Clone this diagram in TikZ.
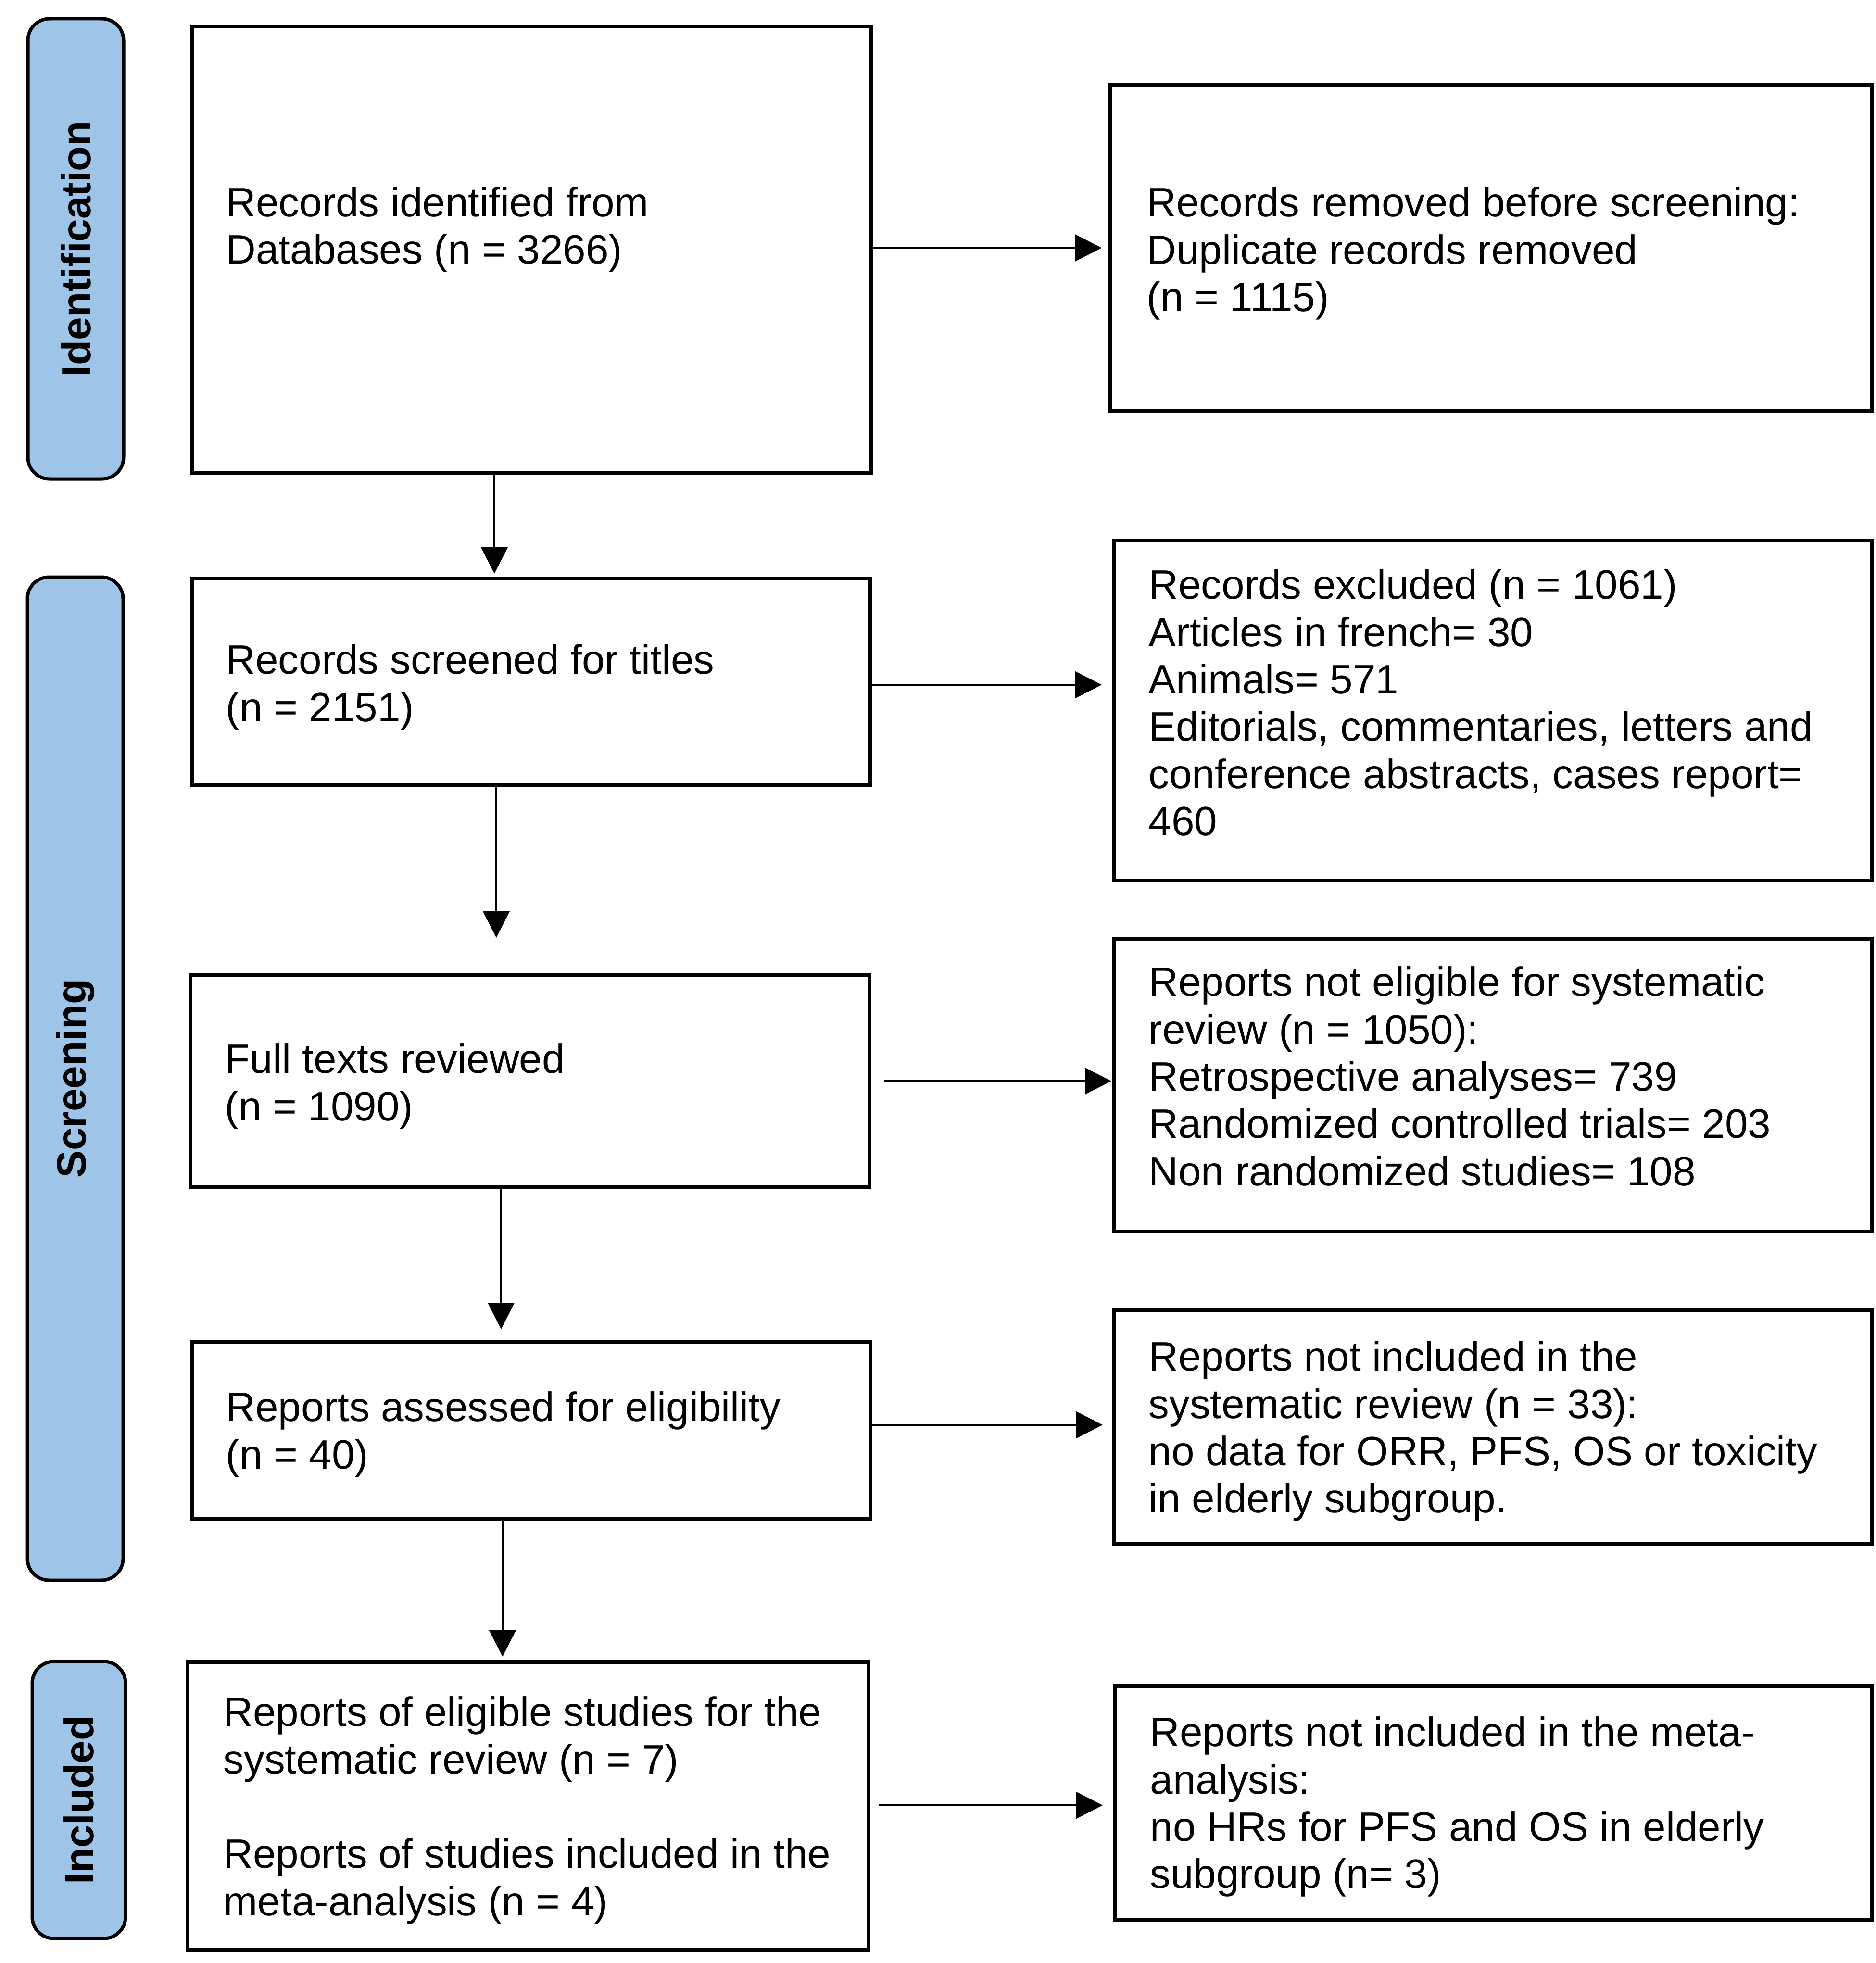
\documentclass[tikz,border=0pt]{standalone}
\usepackage{fontspec}
\setmainfont{Liberation Sans}
\usetikzlibrary{arrows.meta}
\definecolor{sidefill}{RGB}{158,196,232}
\begin{document}
\begin{tikzpicture}[
  box/.style={draw=black, line width=0.08cm, inner sep=0pt, fill=white},
  txt/.style={anchor=north west, inner sep=0pt, align=left, font=\fontsize{24.3pt}{28pt}\selectfont},
  side/.style={draw=black, fill=sidefill, line width=0.07cm, rounded corners=0.45cm, rotate=90, inner sep=0pt, font=\fontsize{24.3pt}{28pt}\selectfont\bfseries},
  arr/.style={line width=0.04cm, -{Triangle[length=0.55cm,width=0.55cm]}}
]
\fill[white] (0,0) rectangle (39,-40.82);
\useasboundingbox (0,0) rectangle (39,-40.82);

% phase side bars
\node[side, minimum width=9.57cm, minimum height=1.99cm] (s1) at (1.575,-5.175) {Identification};
\node[side, minimum width=20.86cm, minimum height=1.99cm] (s2) at (1.565,-22.43) {Screening};
\node[side, minimum width=5.76cm, minimum height=1.94cm] (s3) at (1.64,-37.43) {Included};

% main column boxes
\node[box, minimum width=14.11cm, minimum height=9.29cm] (b1) at (11.055,-5.195) {};
\node[box, minimum width=14.09cm, minimum height=4.30cm] (b2) at (11.045,-14.18) {};
\node[box, minimum width=14.12cm, minimum height=4.41cm] (b3) at (11.02,-22.485) {};
\node[box, minimum width=14.10cm, minimum height=3.67cm] (b4) at (11.05,-29.745) {};
\node[box, minimum width=14.16cm, minimum height=5.99cm] (b5) at (10.98,-37.555) {};

% right column boxes
\node[box, minimum width=15.84cm, minimum height=6.79cm] (r1) at (31.00,-5.155) {};
\node[box, minimum width=15.75cm, minimum height=7.07cm] (r2) at (31.045,-14.775) {};
\node[box, minimum width=15.75cm, minimum height=6.08cm] (r3) at (31.045,-22.57) {};
\node[box, minimum width=15.75cm, minimum height=4.86cm] (r4) at (31.045,-29.67) {};
\node[box, minimum width=15.74cm, minimum height=4.87cm] (r5) at (31.05,-37.495) {};

% texts
\node[txt] (t1) at (4.70,-3.88) {Records identified from\\Databases (n = 3266)};
\node[txt] (t2) at (4.69,-13.39) {Records screened for titles\\(n = 2151)};
\node[txt] (t3) at (4.67,-21.69) {Full texts reviewed\\(n = 1090)};
\node[txt] (t4) at (4.69,-28.93) {Reports assessed for eligibility\\(n = 40)};
\node[txt] (t5) at (4.64,-35.27) {Reports of eligible studies for the\\systematic review (n = 7)\\[28pt]Reports of studies included in the\\meta-analysis (n = 4)};

\node[txt] (u1) at (23.84,-3.88) {Records removed before screening:\\Duplicate records removed\\(n = 1115)};
\node[txt] (u2) at (23.88,-11.83) {Records excluded (n = 1061)\\Articles in french= 30\\Animals= 571\\Editorials, commentaries, letters and\\conference abstracts, cases report=\\460};
\node[txt] (u3) at (23.88,-20.09) {Reports not eligible for systematic\\review (n = 1050):\\Retrospective analyses= 739\\Randomized controlled trials= 203\\Non randomized studies= 108};
\node[txt] (u4) at (23.88,-27.88) {Reports not included in the\\systematic review (n = 33):\\no data for ORR, PFS, OS or toxicity\\in elderly subgroup.};
\node[txt] (u5) at (23.91,-35.69) {Reports not included in the meta-\\analysis:\\no HRs for PFS and OS in elderly\\subgroup (n= 3)};

% connector guide coordinates
\coordinate (v1) at (10.28,0);
\coordinate (v2) at (10.32,0);
\coordinate (v3) at (10.42,0);
\coordinate (v4) at (10.45,0);
\coordinate (h2) at (0,-14.24);
\coordinate (h3) at (0,-22.48);
\coordinate (h4) at (0,-29.63);
\coordinate (h5) at (0,-37.54);

% connectors
\draw[arr, shorten >=0.13cm] (b1.east |- r1.west) -- (r1.west);
\draw[arr, shorten >=0.06cm] (b1.south -| v1) -- (b2.north -| v1);
\draw[arr, shorten >=0.22cm] (b2.east |- h2) -- (r2.west |- h2);
\draw[arr, shorten >=0.74cm] (b2.south -| v2) -- (b3.north -| v2);
\draw[arr, shorten <=0.26cm, shorten >=0.02cm] (b3.east |- h3) -- (r3.west |- h3);
\draw[arr, shorten >=0.23cm] (b3.south -| v3) -- (b4.north -| v3);
\draw[arr, shorten >=0.20cm] (b4.east |- h4) -- (r4.west |- h4);
\draw[arr, shorten >=0.07cm] (b4.south -| v4) -- (b5.north -| v4);
\draw[arr, shorten <=0.18cm, shorten >=0.21cm] (b5.east |- h5) -- (r5.west |- h5);
\end{tikzpicture}
\end{document}
